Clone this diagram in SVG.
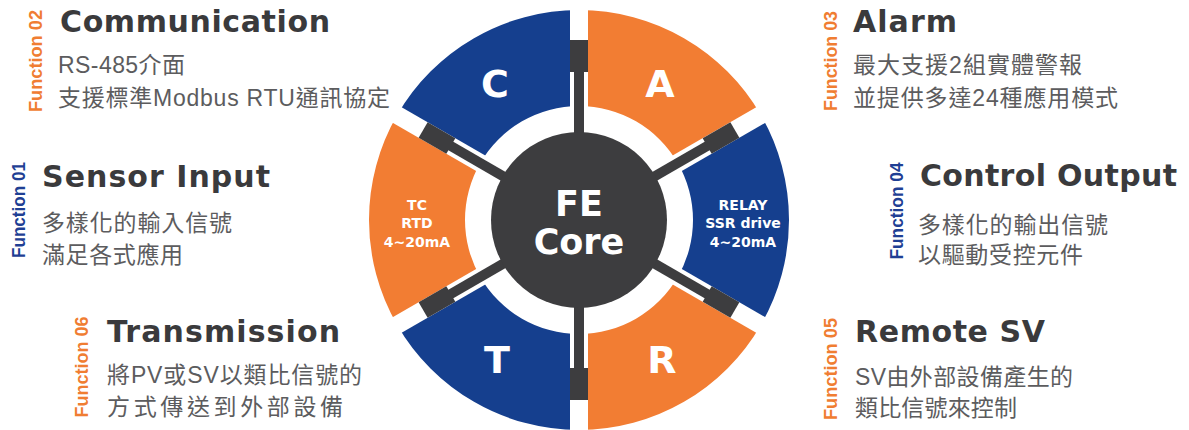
<svg xmlns="http://www.w3.org/2000/svg" width="1189" height="430" viewBox="0 0 1189 430">
<style>
.blue{fill:#153f8e}
.orange{fill:#f27d33}
.gap{stroke:#ffffff;stroke-width:18;fill:none}
.spoke{stroke:#3d3d3f;stroke-width:10;fill:none}
.block{stroke:#3d3d3f;stroke-width:18;fill:none}
.core{fill:#3d3d3f}
.big{font-family:"DejaVu Sans",sans-serif;font-weight:bold;font-size:38px;fill:#ffffff;text-anchor:middle}
.small{font-family:"DejaVu Sans",sans-serif;font-weight:bold;font-size:14px;fill:#ffffff;text-anchor:middle}
.center{font-family:"DejaVu Sans",sans-serif;font-weight:bold;font-size:35px;fill:#ffffff;text-anchor:middle}
.head{font-family:"DejaVu Sans",sans-serif;font-weight:bold;font-size:30px;fill:#3a3a3c}
.body{font-family:"Liberation Sans","Noto Sans CJK TC",sans-serif;font-size:23px;fill:#5c5c5e}
.fn{font-family:"Liberation Sans",sans-serif;font-weight:bold;font-size:19px;text-anchor:middle}
.fo{fill:#f07d32}
.fb{fill:#1f3f94}
</style>
<rect width="1189" height="430" fill="#ffffff"/>
<g id="sector-A"><path class="orange" d="M579 10 A210 210 0 0 1 760.87 115 L677.73 163 A114 114 0 0 0 579 106 Z"/><text class="big" x="660" y="97">A</text></g>
<g id="sector-relay"><path class="blue" d="M760.87 115 A210 210 0 0 1 760.87 325 L677.73 277 A114 114 0 0 0 677.73 163 Z"/><text class="small" x="743" y="210">RELAY</text><text class="small" x="743" y="228">SSR drive</text><text class="small" x="743" y="247">4~20mA</text></g>
<g id="sector-R"><path class="orange" d="M760.87 325 A210 210 0 0 1 579 430 L579 334 A114 114 0 0 0 677.73 277 Z"/><text class="big" x="662" y="373">R</text></g>
<g id="sector-T"><path class="blue" d="M579 430 A210 210 0 0 1 397.13 325 L480.27 277 A114 114 0 0 0 579 334 Z"/><text class="big" x="497" y="373">T</text></g>
<g id="sector-TC"><path class="orange" d="M397.13 325 A210 210 0 0 1 397.13 115 L480.27 163 A114 114 0 0 0 480.27 277 Z"/><text class="small" x="417" y="210">TC</text><text class="small" x="417" y="228">RTD</text><text class="small" x="417" y="247">4~20mA</text></g>
<g id="sector-C"><path class="blue" d="M397.13 115 A210 210 0 0 1 579 10 L579 106 A114 114 0 0 0 480.27 163 Z"/><text class="big" x="495" y="97">C</text></g>
<g id="connectors">
<line class="gap" x1="579" y1="0" x2="579" y2="440"/>
<line class="gap" x1="388.47" y1="110" x2="769.53" y2="330"/>
<line class="gap" x1="388.47" y1="330" x2="769.53" y2="110"/>
<line class="spoke" x1="579" y1="70" x2="579" y2="370"/>
<line class="spoke" x1="449.1" y1="145" x2="708.9" y2="295"/>
<line class="spoke" x1="449.1" y1="295" x2="708.9" y2="145"/>
<line class="block" x1="579" y1="72" x2="579" y2="40"/>
<line class="block" x1="579" y1="368" x2="579" y2="400"/>
<line class="block" x1="707.17" y1="146" x2="734.88" y2="130"/>
<line class="block" x1="707.17" y1="294" x2="734.88" y2="310"/>
<line class="block" x1="450.83" y1="146" x2="423.12" y2="130"/>
<line class="block" x1="450.83" y1="294" x2="423.12" y2="310"/>
</g>
<g id="core"><circle class="core" cx="579" cy="220" r="88"/><text class="center"><tspan x="579" y="216">FE</tspan><tspan x="579" y="254">Core</tspan></text></g>
<g id="communication">
<text class="fn fo" transform="translate(42 61) rotate(-90)" textLength="102" lengthAdjust="spacingAndGlyphs">Function 02</text>
<text class="head" x="60" y="32" textLength="270">Communication</text>
<text class="body" x="58" y="73" textLength="127">RS-485介面</text>
<text class="body" x="58" y="106" textLength="332">支援標準Modbus RTU通訊協定</text>
</g>
<g id="sensor-input">
<text class="fn fb" transform="translate(25 210) rotate(-90)" textLength="96" lengthAdjust="spacingAndGlyphs">Function 01</text>
<text class="head" x="42" y="187" textLength="228">Sensor Input</text>
<text class="body" x="42" y="231" textLength="190">多樣化的輸入信號</text>
<text class="body" x="42" y="263" textLength="141">滿足各式應用</text>
</g>
<g id="transmission">
<text class="fn fo" transform="translate(88 367) rotate(-90)" textLength="101" lengthAdjust="spacingAndGlyphs">Function 06</text>
<text class="head" x="107" y="342" textLength="233">Transmission</text>
<text class="body" x="107" y="383" textLength="255">將PV或SV以類比信號的</text>
<text class="body" x="107" y="415" textLength="236">方式傳送到外部設備</text>
</g>
<g id="alarm">
<text class="fn fo" transform="translate(837 61) rotate(-90)" textLength="100" lengthAdjust="spacingAndGlyphs">Function 03</text>
<text class="head" x="853" y="32" textLength="104">Alarm</text>
<text class="body" x="853" y="73" textLength="229">最大支援2組實體警報</text>
<text class="body" x="853" y="106" textLength="265">並提供多達24種應用模式</text>
</g>
<g id="control-output">
<text class="fn fb" transform="translate(903 211) rotate(-90)" textLength="97" lengthAdjust="spacingAndGlyphs">Function 04</text>
<text class="head" x="920" y="186" textLength="257">Control Output</text>
<text class="body" x="918" y="233" textLength="190">多樣化的輸出信號</text>
<text class="body" x="918" y="263" textLength="165">以驅動受控元件</text>
</g>
<g id="remote-sv">
<text class="fn fo" transform="translate(837 369) rotate(-90)" textLength="102" lengthAdjust="spacingAndGlyphs">Function 05</text>
<text class="head" x="855" y="342" textLength="190">Remote SV</text>
<text class="body" x="855" y="385" textLength="218">SV由外部設備產生的</text>
<text class="body" x="855" y="416" textLength="162">類比信號來控制</text>
</g>
</svg>
